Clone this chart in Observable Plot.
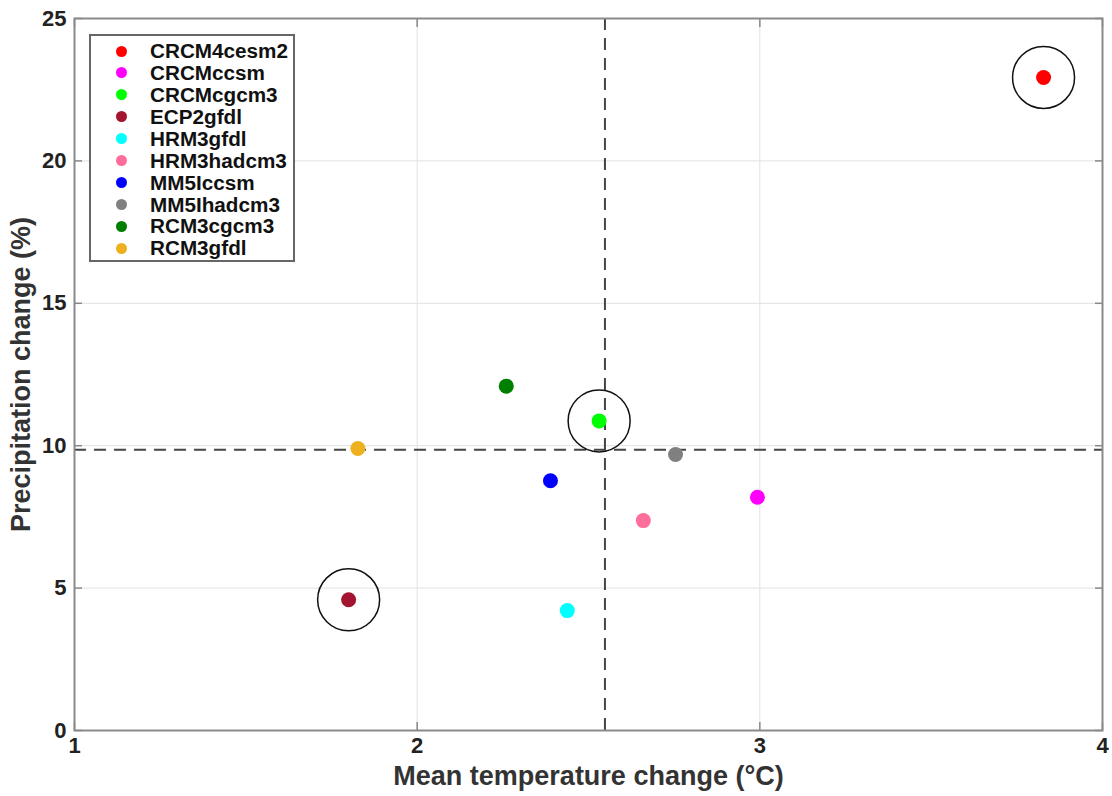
<!DOCTYPE html>
<html><head><meta charset="utf-8">
<script src="https://cdn.jsdelivr.net/npm/d3@7"></script>
<script src="https://cdn.jsdelivr.net/npm/@observablehq/plot@0.6"></script>
<style>
body{margin:0;background:#fff;font-family:"Liberation Sans",Arial,sans-serif}
#wrap{position:relative;width:1112px;height:796px}
#legend{position:absolute;left:89px;top:34px;width:206px;height:228px;border:2px solid #666;background:#fff;box-sizing:border-box}
.item{position:absolute;left:0;height:22px;line-height:22px;font-weight:bold;font-size:20.7px;color:#111;white-space:nowrap}
.sw{position:absolute;width:11px;height:11px;border-radius:50%}
</style></head><body><div id="wrap"></div>
<script>
const models = ["CRCM4cesm2","CRCMccsm","CRCMcgcm3","ECP2gfdl","HRM3gfdl","HRM3hadcm3","MM5Iccsm","MM5Ihadcm3","RCM3cgcm3","RCM3gfdl"];
const tempChange = [3.828, 2.993, 2.531, 1.800, 2.438, 2.660, 2.389, 2.754, 2.260, 1.827];
const precipChange = [22.93, 8.19, 10.87, 4.59, 4.21, 7.37, 8.77, 9.69, 12.09, 9.90];
const colors = ["#ff0000","#ff00ff","#00ff00","#a2142f","#00ffff","#ff6e9b","#0000ff","#808080","#007f00","#edb120"];
const circled = ["CRCM4cesm2","CRCMcgcm3","ECP2gfdl"];
const xTicks = [1,2,3,4];
const yTicks = [0,5,10,15,20,25];
const xGrid = [2,3];
const yGrid = [5,10,15,20];
const xLabel = "Mean temperature change (°C)";
const yLabel = "Precipitation change (%)";

const data = models.map((m,i)=>({model:m, t:tempChange[i], p:precipChange[i], color:colors[i]}));
const meanT = d3.mean(tempChange);
const meanP = d3.mean(precipChange);

const tickFont = {fontSize:22, fontWeight:"bold", fill:"#222"};
const noText = {tickFormat:()=>"", label:null, stroke:"#888", strokeWidth:1.5};
const chart = Plot.plot({
  width:1112, height:796,
  marginLeft:74, marginRight:10, marginTop:18, marginBottom:66,
  x:{domain:[1,4]},
  y:{domain:[0,25]},
  color:{type:"identity"},
  style:{fontFamily:"Liberation Sans, Arial, sans-serif", background:"#fff"},
  marks:[
    Plot.ruleX(xGrid,{stroke:"#e2e2e2", strokeWidth:1}),
    Plot.ruleY(yGrid,{stroke:"#e2e2e2", strokeWidth:1}),
    Plot.ruleX([meanT],{stroke:"#444", strokeWidth:2, strokeDasharray:"12,8"}),
    Plot.ruleY([meanP],{stroke:"#444", strokeWidth:2, strokeDasharray:"12,8"}),
    Plot.axisX(xTicks,{anchor:"bottom", tickSize:0, tickPadding:7, tickFormat:"d", label:null, ...tickFont}),
    Plot.axisY(yTicks,{anchor:"left", tickSize:0, tickPadding:8, tickFormat:"d", label:null, ...tickFont}),
    Plot.axisX(xTicks,{anchor:"bottom", tickSize:8, dy:-8, ...noText}),
    Plot.axisX(xTicks,{anchor:"top", tickSize:8, dy:8, ...noText}),
    Plot.axisY(yTicks,{anchor:"left", tickSize:8, dx:8, ...noText}),
    Plot.axisY(yTicks,{anchor:"right", tickSize:8, dx:-8, ...noText}),
    Plot.frame({stroke:"#8a8a8a", strokeWidth:2}),
    Plot.dot(data,{x:"t", y:"p", r:7.5, fill:"color", stroke:null}),
    Plot.dot(data.filter(d=>circled.includes(d.model)),{x:"t", y:"p", r:31, fill:"none", stroke:"#111", strokeWidth:1.5}),
    Plot.text([xLabel],{frameAnchor:"bottom", dy:46, lineAnchor:"middle", textAnchor:"middle", fontSize:27, fontWeight:"bold", fill:"#333"}),
    Plot.text([yLabel],{frameAnchor:"left", dx:-53, rotate:-90, lineAnchor:"middle", textAnchor:"middle", fontSize:27, fontWeight:"bold", fill:"#333"})
  ]
});
const wrap = document.getElementById("wrap");
wrap.appendChild(chart);
const lg = document.createElement("div");
lg.id = "legend";
models.forEach((m,i)=>{
  const it = document.createElement("div");
  it.className = "item";
  it.style.top = (4 + i*21.93) + "px";
  const sw = document.createElement("span");
  sw.className = "sw";
  sw.style.background = colors[i];
  sw.style.left = "25px"; sw.style.top = "5.5px";
  it.appendChild(sw);
  const tx = document.createElement("span");
  tx.style.position = "absolute"; tx.style.left = "59px";
  tx.textContent = m;
  it.appendChild(tx);
  lg.appendChild(it);
});
wrap.appendChild(lg);
</script>
</body></html>
